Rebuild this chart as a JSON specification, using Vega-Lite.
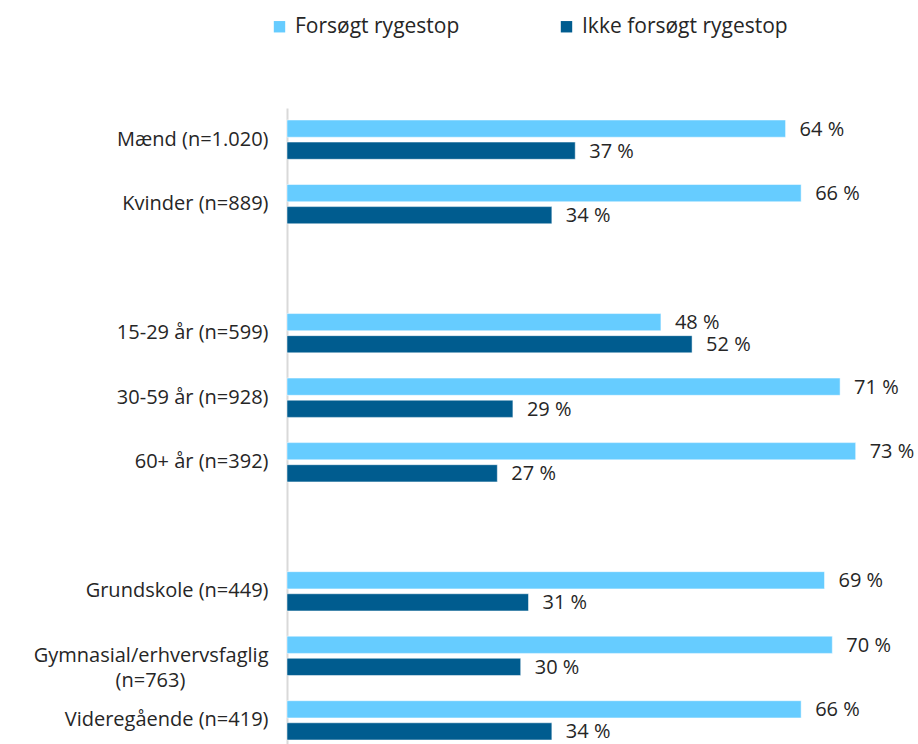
{
  "$schema": "https://vega.github.io/schema/vega-lite/v6.json",
  "autosize": {"type": "none"},
  "padding": {"left": 287, "top": 108, "right": 0, "bottom": 0},
  "width": 631,
  "height": 644,
  "background": "white",
  "config": {
    "view": {"stroke": null},
    "font": "Open Sans",
    "text": {"color": "#262626"}
  },
  "data": {
    "values": [
      {"category": "Mænd (n=1.020)", "series": "Forsøgt rygestop", "value": 64},
      {"category": "Mænd (n=1.020)", "series": "Ikke forsøgt rygestop", "value": 37},
      {"category": "Kvinder (n=889)", "series": "Forsøgt rygestop", "value": 66},
      {"category": "Kvinder (n=889)", "series": "Ikke forsøgt rygestop", "value": 34},
      {"category": "15-29 år (n=599)", "series": "Forsøgt rygestop", "value": 48},
      {"category": "15-29 år (n=599)", "series": "Ikke forsøgt rygestop", "value": 52},
      {"category": "30-59 år (n=928)", "series": "Forsøgt rygestop", "value": 71},
      {"category": "30-59 år (n=928)", "series": "Ikke forsøgt rygestop", "value": 29},
      {"category": "60+ år (n=392)", "series": "Forsøgt rygestop", "value": 73},
      {"category": "60+ år (n=392)", "series": "Ikke forsøgt rygestop", "value": 27},
      {"category": "Grundskole (n=449)", "series": "Forsøgt rygestop", "value": 69},
      {"category": "Grundskole (n=449)", "series": "Ikke forsøgt rygestop", "value": 31},
      {"category": "Gymnasial/erhvervsfaglig (n=763)", "series": "Forsøgt rygestop", "value": 70},
      {"category": "Gymnasial/erhvervsfaglig (n=763)", "series": "Ikke forsøgt rygestop", "value": 30},
      {"category": "Videregående (n=419)", "series": "Forsøgt rygestop", "value": 66},
      {"category": "Videregående (n=419)", "series": "Ikke forsøgt rygestop", "value": 34}
    ]
  },
  "transform": [
    {"calculate": "datum.value + ' %'", "as": "label"}
  ],
  "encoding": {
    "y": {
      "field": "category",
      "type": "nominal",
      "scale": {
        "domain": ["Mænd (n=1.020)", "Kvinder (n=889)", "gap1", "15-29 år (n=599)", "30-59 år (n=928)", "60+ år (n=392)", "gap2", "Grundskole (n=449)", "Gymnasial/erhvervsfaglig (n=763)", "Videregående (n=419)"],
        "paddingInner": 0.391,
        "paddingOuter": 0.186
      },
      "axis": {
        "title": null,
        "ticks": false,
        "domainColor": "#d9d9d9",
        "domainWidth": 2,
        "labelFont": "Open Sans",
        "labelFontSize": 20,
        "labelColor": "#262626",
        "labelPadding": 19,
        "labelLimit": 400,
        "labelLineHeight": 25,
        "labelExpr": "indexof(datum.label, 'gap') == 0 ? '' : (datum.label == 'Gymnasial/erhvervsfaglig (n=763)' ? ['Gymnasial/erhvervsfaglig', '(n=763)\u00a0\u00a0\u00a0\u00a0\u00a0\u00a0\u00a0\u00a0\u00a0\u00a0\u00a0\u00a0\u00a0\u00a0\u00a0\u00a0\u200b'] : datum.label)"
      }
    },
    "yOffset": {
      "field": "series",
      "type": "nominal",
      "sort": ["Forsøgt rygestop", "Ikke forsøgt rygestop"],
      "scale": {"paddingInner": 0.22, "paddingOuter": 0}
    },
    "x": {
      "field": "value",
      "type": "quantitative",
      "scale": {"domain": [0, 81], "nice": false},
      "axis": null
    }
  },
  "layer": [
    {
      "mark": {"type": "bar", "stroke": "white", "strokeWidth": 0.5},
      "encoding": {
        "color": {
          "field": "series",
          "type": "nominal",
          "scale": {"domain": ["Forsøgt rygestop", "Ikke forsøgt rygestop"], "range": ["#66CCFF", "#005C8F"]},
          "legend": {
            "title": null,
            "orient": "none",
            "direction": "horizontal",
            "legendX": -18,
            "legendY": -92,
            "symbolType": "square",
            "symbolSize": 130,
            "symbolStrokeWidth": 0,
            "symbolOpacity": 1,
            "labelFont": "Open Sans",
            "labelFontSize": 21,
            "labelColor": "#262626",
            "labelOffset": 5,
            "labelLimit": 400,
            "columnPadding": 96
          }
        }
      }
    },
    {
      "mark": {"type": "text", "align": "left", "baseline": "middle", "dx": 14, "dy": 1, "fontSize": 20, "font": "Open Sans", "color": "#262626"},
      "encoding": {
        "text": {"field": "label"}
      }
    }
  ]
}
